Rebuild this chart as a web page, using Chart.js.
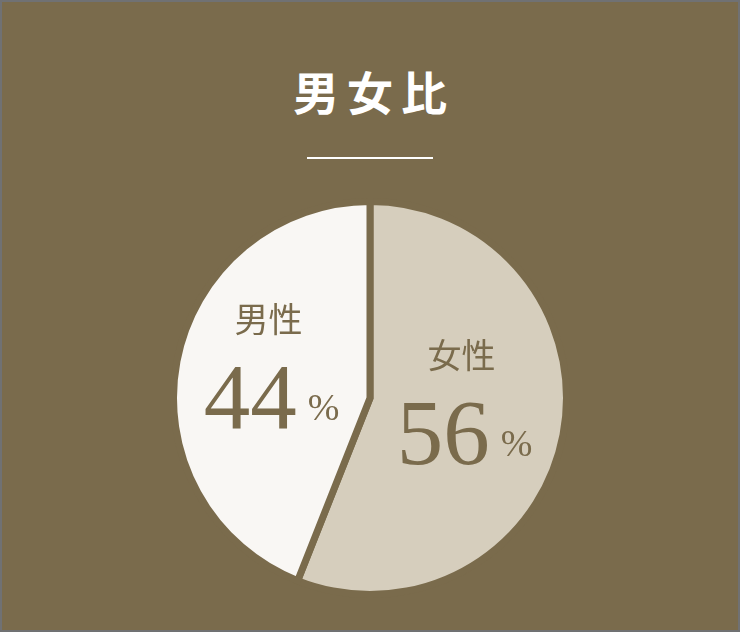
<!DOCTYPE html>
<html lang="ja">
<head>
<meta charset="utf-8">
<script src="https://cdn.jsdelivr.net/npm/chart.js@4/dist/chart.umd.min.js"></script>
<style>
  html, body { margin: 0; padding: 0; }
  .panel {
    position: relative;
    width: 740px;
    height: 632px;
    box-sizing: border-box;
    border: 2px solid #707173;
    background: #7a6b4c;
    overflow: hidden;
  }
  .panel h2 {
    position: absolute;
    left: 0; right: 0; top: 58px;
    margin: 0;
    text-align: center;
    color: #ffffff;
    font: 700 46px "Noto Sans CJK JP", sans-serif;
    letter-spacing: 8px;
    text-indent: 8px;
    line-height: 60px;
  }
  .panel .rule {
    position: absolute;
    left: 305px; top: 155px;
    width: 126px; height: 2px;
    background: #ffffff;
  }
  .chart-box {
    position: absolute;
    left: 168px; top: 196px;
    width: 400px; height: 400px;
  }
</style>
</head>
<body>
<div class="panel">
  <h2>男女比</h2>
  <div class="rule"></div>
  <div class="chart-box"><canvas id="genderChart"></canvas></div>
</div>
<script>
// 男女比 pie
const categories = ['女性', '男性'];
const shares = [56, 44];
const sliceColors = ['#d6cebd', '#f9f7f4'];

const bgColor = '#7a6b4c';
const textColor = '#7a6b4c';

// draws "女性 / 56%" style labels inside each slice
const sliceLabels = {
    id: 'sliceLabels',
    afterDatasetsDraw(chart) {
        const ctx = chart.ctx;
        const meta = chart.getDatasetMeta(0);
        meta.data.forEach(function(arc, i) {
            const pos = arc.tooltipPosition();
            const x = pos.x - 2;
            const y = pos.y;

            ctx.save();
            ctx.fillStyle = textColor;
            ctx.textAlign = 'center';
            ctx.textBaseline = 'middle';

            ctx.font = '34px "Noto Sans CJK JP", sans-serif';
            ctx.fillText(categories[i], x - 3, y - 61);

            const num = String(shares[i]);
            ctx.font = '93px "Liberation Serif", serif';
            const numW = ctx.measureText(num).width;
            ctx.font = '38px "Liberation Serif", serif';
            const pctW = ctx.measureText('%').width;
            const gap = 11;
            const left = x - (numW + gap + pctW) / 2;

            ctx.textAlign = 'left';
            ctx.textBaseline = 'alphabetic';
            ctx.font = '93px "Liberation Serif", serif';
            ctx.fillText(num, left, y + 48);
            ctx.font = '38px "Liberation Serif", serif';
            ctx.fillText('%', left + numW + gap, y + 40);
            ctx.restore();
        });
    }
};

const ctx = document.getElementById('genderChart');
new Chart(ctx.getContext('2d'), {
    type: 'pie',
    data: {
        labels: categories,
        datasets: [{
            data: shares,
            backgroundColor: sliceColors,
            borderColor: bgColor,
            borderWidth: 7,
            borderJoinStyle: 'miter'
        }]
    },
    options: {
        responsive: true,
        maintainAspectRatio: false,
        animation: false,
        events: [],
        plugins: {
            legend: { display: false },
            tooltip: { enabled: false }
        },
        layout: { padding: 0 }
    },
    plugins: [sliceLabels]
});
</script>
</body>
</html>
